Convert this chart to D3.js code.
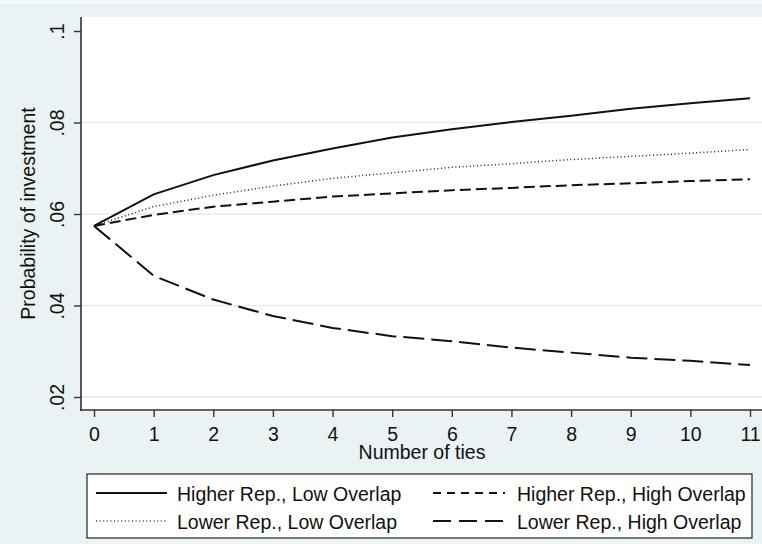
<!DOCTYPE html>
<html>
<head>
<meta charset="utf-8">
<script src="https://cdn.jsdelivr.net/npm/d3@7"></script>
<style>
  body { margin: 0; background: #eaf2f3; }
  svg text { font-family: "Liberation Sans", Arial, sans-serif; fill: #111; }
</style>
</head>
<body>
<div id="chart"></div>
<script>
const ties = [0, 1, 2, 3, 4, 5, 6, 7, 8, 9, 10, 11];
const higherLow = [0.0574, 0.0643, 0.0685, 0.0717, 0.0743, 0.0767, 0.0785, 0.0801, 0.0815, 0.0830, 0.0842, 0.0853];
const lowerLow = [0.0574, 0.0616, 0.0641, 0.0661, 0.0678, 0.0690, 0.0702, 0.0710, 0.0719, 0.0726, 0.0733, 0.0741];
const higherHigh = [0.0574, 0.0598, 0.0616, 0.0627, 0.0638, 0.0645, 0.0652, 0.0657, 0.0663, 0.0667, 0.0672, 0.0676];
const lowerHigh = [0.0574, 0.0465, 0.0413, 0.0377, 0.0351, 0.0333, 0.0322, 0.0308, 0.0297, 0.0286, 0.0279, 0.0270];
const yTicks = [0.02, 0.04, 0.06, 0.08, 0.1];

const series = [
    { name: "Higher Rep., Low Overlap", values: higherLow, dash: null, width: 2, key: null },
    { name: "Lower Rep., Low Overlap", values: lowerLow, dash: "1,2.6", width: 1.5, key: null },
    { name: "Higher Rep., High Overlap", values: higherHigh, dash: "11,5", width: 2, key: "8,6" },
    { name: "Lower Rep., High Overlap", values: lowerHigh, dash: "21,7", width: 2, key: "18,8" },
];

const width = 762;
const height = 544;
const plot = { left: 82, right: 762, top: 17, bottom: 410 };
const fontSize = "19.5px";

const svg = d3.select("#chart").append("svg")
    .attr("width", width)
    .attr("height", height);

svg.append("rect")
    .attr("width", width).attr("height", height)
    .attr("fill", "#eaf2f3");
svg.append("rect")
    .attr("width", width).attr("height", 4)
    .attr("fill", "#f5f9f9");

// plot region
svg.append("rect")
    .attr("x", plot.left).attr("y", plot.top)
    .attr("width", plot.right - plot.left)
    .attr("height", plot.bottom - plot.top)
    .attr("fill", "#fff");

const x = d3.scaleLinear().domain([0, 11]).range([94, 750]);
const y = d3.scaleLinear().domain([0.02, 0.1]).range([397, 31]);

// gridlines
svg.append("g")
    .selectAll("line")
    .data(yTicks.filter(t => t < 0.1))
    .enter()
    .append("line")
    .attr("x1", plot.left).attr("x2", plot.right)
    .attr("y1", d => y(d)).attr("y2", d => y(d))
    .attr("stroke", "#deedf0")
    .attr("stroke-width", 1.6);

// y axis
const yAxis = svg.append("g")
    .attr("transform", `translate(${plot.left - 1},0)`)
    .call(d3.axisLeft(y).tickValues(yTicks).tickSize(7)
        .tickFormat(d => d3.format(".2f")(d).replace(/^0/, "").replace(/0$/, "")));
yAxis.select(".domain").remove();
yAxis.selectAll(".tick line").attr("stroke", "#333").attr("stroke-width", 1.4);
yAxis.selectAll(".tick text")
    .attr("transform", "rotate(-90)")
    .attr("x", 0).attr("y", -17).attr("dy", null)
    .attr("text-anchor", "middle")
    .style("font-size", fontSize);
svg.append("line")
    .attr("x1", plot.left - 1).attr("x2", plot.left - 1)
    .attr("y1", plot.top).attr("y2", plot.bottom + 1)
    .attr("stroke", "#333").attr("stroke-width", 1.6);

// x axis
const xAxis = svg.append("g")
    .attr("transform", `translate(0,${plot.bottom})`)
    .call(d3.axisBottom(x).tickValues(ties).tickSize(7).tickFormat(d3.format("d")));
xAxis.select(".domain").remove();
xAxis.selectAll(".tick line").attr("stroke", "#333").attr("stroke-width", 1.4);
xAxis.selectAll(".tick text")
    .attr("y", 31).attr("dy", null)
    .style("font-size", fontSize);
svg.append("line")
    .attr("x1", plot.left - 2).attr("x2", plot.right)
    .attr("y1", plot.bottom).attr("y2", plot.bottom)
    .attr("stroke", "#333").attr("stroke-width", 1.6);

// axis titles
svg.append("text")
    .attr("transform", `translate(35,${(plot.top + plot.bottom) / 2}) rotate(-90)`)
    .attr("text-anchor", "middle")
    .style("font-size", fontSize)
    .text("Probability of investment");
svg.append("text")
    .attr("x", (plot.left + plot.right) / 2)
    .attr("y", 459)
    .attr("text-anchor", "middle")
    .style("font-size", fontSize)
    .text("Number of ties");

// lines
const line = d3.line()
    .x((d, i) => x(ties[i]))
    .y(d => y(d));

svg.append("g")
    .selectAll("path")
    .data(series)
    .enter()
    .append("path")
    .attr("d", d => line(d.values))
    .attr("fill", "none")
    .attr("stroke", d => d.dash === "1,2.6" ? "#222" : "#111")
    .attr("stroke-width", d => d.width)
    .attr("stroke-dasharray", d => d.dash);

// legend
const legend = svg.append("g");
legend.append("rect")
    .attr("x", 87).attr("y", 474)
    .attr("width", 665).attr("height", 64)
    .attr("fill", "#fff")
    .attr("stroke", "#222")
    .attr("stroke-width", 1.2);

const legendPos = [
    { x: 96, y: 493 },
    { x: 96, y: 521 },
    { x: 433, y: 493 },
    { x: 433, y: 521 },
];
series.forEach((s, i) => {
    const p = legendPos[i];
    const len = i < 2 ? 71 : 72;
    const g = legend.append("g");
    g.append("line")
        .attr("x1", p.x).attr("x2", p.x + len)
        .attr("y1", p.y).attr("y2", p.y)
        .attr("stroke", s.dash === "1,2.6" ? "#444" : "#111")
        .attr("stroke-width", s.width)
        .attr("stroke-dasharray", s.key || s.dash);
    g.append("text")
        .attr("x", i < 2 ? 177 : 517)
        .attr("y", p.y + 8)
        .style("font-size", fontSize)
        .text(s.name);
});
</script>
</body>
</html>
